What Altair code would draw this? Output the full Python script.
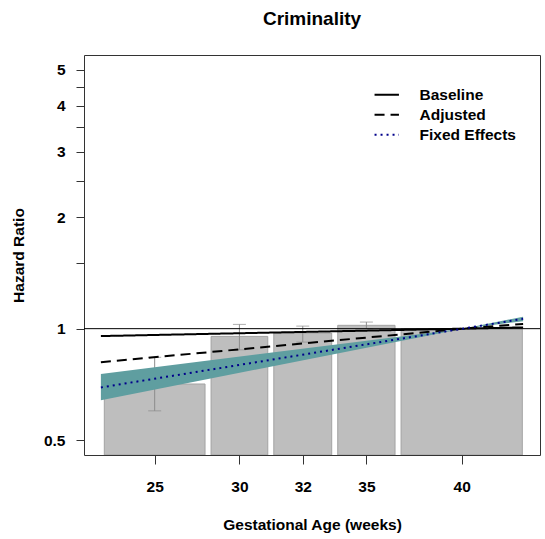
import altair as alt
import pandas as pd

# ---- data ----
bar_start = [22.17, 27.48, 30.60, 33.78, 36.93]
bar_end = [27.18, 30.30, 33.48, 36.63, 42.96]
bar_hr = [0.709, 0.953, 0.973, 1.021, 1.0]
tick_labels = ["25", "30", "32", "35", "40"]

ci_bar = [0, 1, 2, 3]
ci_lo = [0.600, 0.877, 0.920, 1.000]
ci_hi = [0.837, 1.027, 1.016, 1.042]

weeks = [22, 40, 43]
baseline = [0.955, 1.0, 1.008]
adjusted = [0.812, 1.0, 1.030]
fixed = [0.694, 1.0, 1.063]
fixed_lo = [0.641, 1.0, 1.048]
fixed_hi = [0.755, 1.0, 1.077]

series_names = ["Baseline", "Adjusted", "Fixed Effects"]

# ---- frames ----
centers = [(a + b) / 2 for a, b in zip(bar_start, bar_end)]
x_dom = [22 - 0.04 * 21, 43 + 0.04 * 21]
y_dom = [0.456, 5.48]

bars_df = pd.DataFrame({"start": bar_start, "end": bar_end, "hr": bar_hr,
                        "base": [y_dom[0]] * len(bar_hr)})
ci_df = pd.DataFrame({"center": [centers[i] for i in ci_bar], "lo": ci_lo, "hi": ci_hi})
band_df = pd.DataFrame({"week": weeks, "lo": fixed_lo, "hi": fixed_hi})
lines_df = pd.DataFrame({
    "week": weeks * 3,
    "hr": baseline + adjusted + fixed,
    "series": [series_names[0]] * 3 + [series_names[1]] * 3 + [series_names[2]] * 3,
})
one_df = pd.DataFrame({"hr": [1.0]})

FONT = "Liberation Sans"
FS = 15.5

x_scale = alt.Scale(domain=x_dom, nice=False, zero=False)
y_scale = alt.Scale(type="log", domain=y_dom, nice=False)

label_expr = " : ".join(
    f"abs(datum.value - {c}) < 0.01 ? '{l}'" for c, l in zip(centers, tick_labels)
) + " : ''"

x_axis = alt.Axis(values=centers, labelExpr=label_expr, title="Gestational Age (weeks)",
                  grid=False, domain=False, tickSize=9, tickColor="#333333",
                  labelPadding=15, labelFont=FONT, labelFontSize=FS, labelFontWeight="bold",
                  labelColor="black", titleFont=FONT, titleFontSize=FS, titleFontWeight="bold",
                  titleColor="black", titlePadding=23, labelOverlap=False)

y_major = [0.5, 1, 2, 3, 4, 5]
y_minor = [1.5, 2.5, 3.5, 4.5]
y_label_expr = "indexof([" + ",".join(str(v) for v in y_minor) + "], datum.value) >= 0 ? '' : format(datum.value, '~g')"
y_axis = alt.Axis(values=sorted(y_major + y_minor), labelExpr=y_label_expr, title="Hazard Ratio",
                  grid=False, domain=False, tickSize=8, tickColor="#333333",
                  labelPadding=11, labelFont=FONT, labelFontSize=FS, labelFontWeight="bold",
                  labelColor="black", titleFont=FONT, titleFontSize=FS, titleFontWeight="bold",
                  titleColor="black", titlePadding=17, labelOverlap=False)

bars = alt.Chart(bars_df).mark_rect(fill="#bebebe", stroke="#a3a3a3", strokeWidth=1, clip=True).encode(
    x=alt.X("start:Q", scale=x_scale, axis=x_axis),
    x2="end:Q",
    y=alt.Y("hr:Q", scale=y_scale, axis=y_axis),
    y2="base:Q",
)

ci_rule = alt.Chart(ci_df).mark_rule(color="#8c8c8c", strokeWidth=1).encode(
    x=alt.X("center:Q", scale=x_scale, axis=x_axis),
    y=alt.Y("lo:Q", scale=y_scale, axis=y_axis),
    y2="hi:Q",
)
ci_lo_cap = alt.Chart(ci_df).mark_tick(orient="horizontal", size=13, thickness=1, color="#8c8c8c").encode(
    x=alt.X("center:Q", scale=x_scale, axis=x_axis),
    y=alt.Y("lo:Q", scale=y_scale, axis=y_axis),
)
ci_hi_cap = alt.Chart(ci_df).mark_tick(orient="horizontal", size=13, thickness=1, color="#8c8c8c").encode(
    x=alt.X("center:Q", scale=x_scale, axis=x_axis),
    y=alt.Y("hi:Q", scale=y_scale, axis=y_axis),
)

band = alt.Chart(band_df).mark_area(color="#5f9ea0", opacity=1).encode(
    x=alt.X("week:Q", scale=x_scale, axis=x_axis),
    y=alt.Y("lo:Q", scale=y_scale, axis=y_axis),
    y2="hi:Q",
)

one_line = alt.Chart(one_df).mark_rule(color="black", strokeWidth=1).encode(
    y=alt.Y("hr:Q", scale=y_scale, axis=y_axis),
)

legend = alt.Legend(title=None, orient="none", legendX=295, legendY=32,
                    symbolType="M-2.44,0H2.44", symbolSize=100, symbolStrokeWidth=2,
                    labelFont=FONT, labelFontSize=FS, labelFontWeight="bold", labelColor="black",
                    labelOffset=25, rowPadding=3, padding=0)

lines = alt.Chart(lines_df).mark_line(strokeWidth=2).encode(
    x=alt.X("week:Q", scale=x_scale, axis=x_axis),
    y=alt.Y("hr:Q", scale=y_scale, axis=y_axis),
    color=alt.Color("series:N", scale=alt.Scale(domain=series_names, range=["black", "black", "#00008b"]),
                    legend=legend),
    strokeDash=alt.StrokeDash("series:N", scale=alt.Scale(domain=series_names, range=[[1, 0], [10, 6], [2, 4]]),
                              legend=legend),
)

chart = alt.layer(bars, ci_rule, ci_lo_cap, ci_hi_cap, band, one_line, lines).properties(
    width=456, height=400,
    title=alt.TitleParams("Criminality", font=FONT, fontSize=19, fontWeight="bold", color="black",
                          anchor="middle", offset=26),
    autosize=alt.AutoSizeParams(type="none"),
    padding={"left": 84, "top": 55, "right": 5, "bottom": 84},
).configure(background="white").configure_view(stroke="#333333", strokeWidth=1)

chart.save("out.html", embed_options={"renderer": "svg", "actions": False})
